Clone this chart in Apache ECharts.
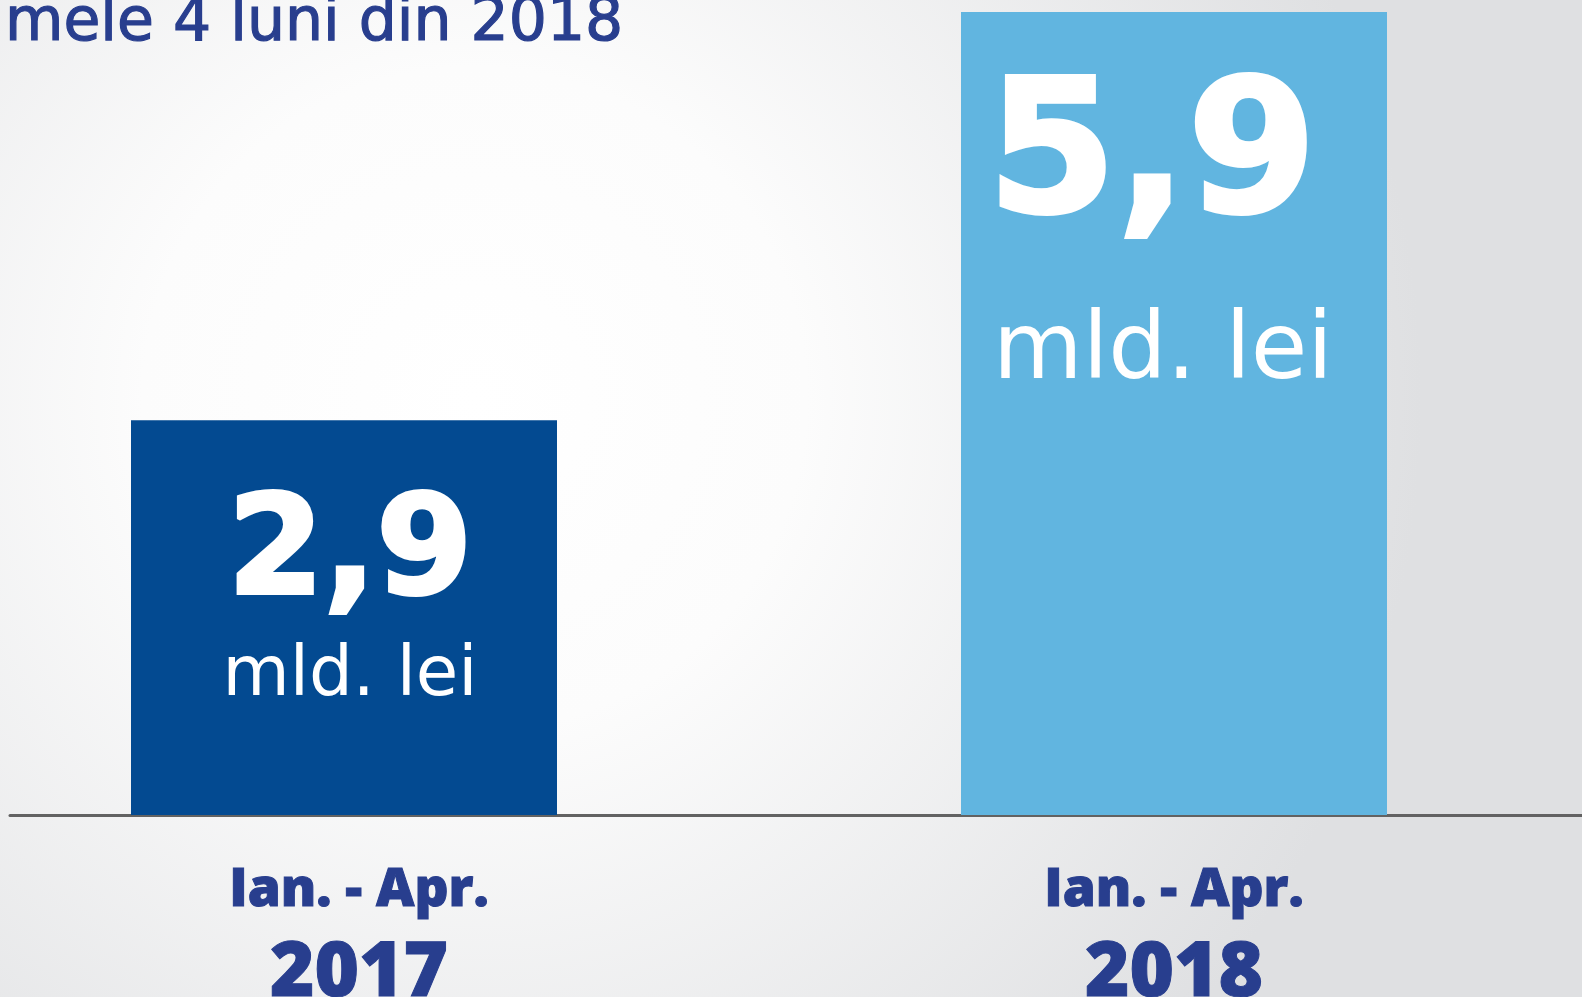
<!DOCTYPE html>
<html>
<head>
<meta charset="utf-8">
<script src="https://cdn.jsdelivr.net/npm/echarts@6/dist/echarts.min.js"></script>
<style>
  html, body { margin: 0; padding: 0; }
  #chart { width: 1582px; height: 997px; }
</style>
</head>
<body>
<div id="chart"></div>
<script>
// values (mld. lei)
const periods = ['Ian. - Apr.', 'Ian. - Apr.'];
const years = ['2017', '2018'];
const values = [2.9, 5.9];
const valueTexts = ['2,9', '5,9'];
const unit = 'mld. lei';
const barColors = ['#034a91', '#61b5e0'];
const titleText = 'mele 4 luni din 2018';

const navy = '#283e8e';

var chart = echarts.init(document.getElementById('chart'));

// per-bar label layout: the 2018 label is drawn bigger
const labelStyles = [
  { big: 138, bigLh: 138, small: 69, smallLh: 102, distance: 68, offset: [6, 0], shift: 0 },
  { big: 186, bigLh: 186, small: 92, smallLh: 196, distance: 58, offset: [-11, 0], shift: 22 }
];

var seriesData = values.map(function (v, i) {
  var s = labelStyles[i];
  return {
    value: v,
    itemStyle: { color: barColors[i] },
    label: {
      show: true,
      position: 'insideTop',
      distance: s.distance,
      offset: s.offset,
      formatter: '{n|' + valueTexts[i] + '}\n{u|' + unit + '}',
      rich: {
        n: {
          fontFamily: 'DejaVu Sans', fontWeight: 'bold', fontSize: s.big,
          lineHeight: s.bigLh, color: '#fff', padding: [0, s.shift, 0, 0],
          textBorderColor: '#fff', textBorderWidth: 4
        },
        u: {
          fontFamily: 'DejaVu Sans', fontWeight: 'normal', fontSize: s.small,
          lineHeight: s.smallLh, color: '#fff'
        }
      }
    }
  };
});

function axisText(size, lh, padLeft) {
  return {
    fontFamily: 'Open Sans', fontWeight: 800, fontSize: size, lineHeight: lh,
    color: navy, textBorderColor: navy, textBorderWidth: 1,
    padding: [0, 0, 0, padLeft]
  };
}

var option = {
  backgroundColor: {
    type: 'radial', x: 0.3, y: 0.4, r: 0.95,
    colorStops: [
      { offset: 0, color: '#ffffff' },
      { offset: 0.35, color: '#fcfcfc' },
      { offset: 1, color: '#dfe0e2' }
    ]
  },
  title: {
    text: titleText,
    left: 0,
    top: -12,
    textStyle: {
      fontFamily: 'DejaVu Sans', fontWeight: 'normal', fontSize: 60, lineHeight: 62,
      color: navy, textBorderColor: navy, textBorderWidth: 1.2
    }
  },
  grid: [
    { left: -71, right: -7, top: 12, bottom: 182, outerBoundsMode: 'none', containLabel: false },
    // thin grid used only to draw the baseline
    { left: 10, right: 0, bottom: 182, height: 0, outerBoundsMode: 'none', containLabel: false }
  ],
  xAxis: [
    {
      type: 'category',
      gridIndex: 0,
      data: periods.map(function (p, i) { return p + '\n' + years[i]; }),
      axisLine: { show: false },
      axisTick: { show: false },
      axisLabel: {
        margin: 36,
        formatter: function (val, i) {
          // the 2017 caption sits a little right of its bar
          var k = i === 0 ? '0' : '1';
          return '{a' + k + '|' + periods[i] + '}\n{b' + k + '|' + years[i] + '}';
        },
        rich: {
          a0: axisText(53, 80, 30),
          b0: axisText(76, 86, 30),
          a1: axisText(53, 80, 0),
          b1: axisText(76, 86, 0)
        }
      }
    },
    {
      type: 'value',
      gridIndex: 1,
      min: 0, max: 1,
      axisLine: { show: true, onZero: false, lineStyle: { color: '#626262', width: 3 } },
      axisTick: { show: false },
      axisLabel: { show: false },
      splitLine: { show: false }
    }
  ],
  yAxis: [
    { type: 'value', gridIndex: 0, min: 0, max: 5.9, show: false, splitLine: { show: false } },
    { type: 'value', gridIndex: 1, show: false, splitLine: { show: false } }
  ],
  series: [{
    type: 'bar',
    xAxisIndex: 0,
    yAxisIndex: 0,
    barWidth: 426,
    data: seriesData,
    z: 1
  }],
  animation: false
};

chart.setOption(option);
</script>
</body>
</html>
